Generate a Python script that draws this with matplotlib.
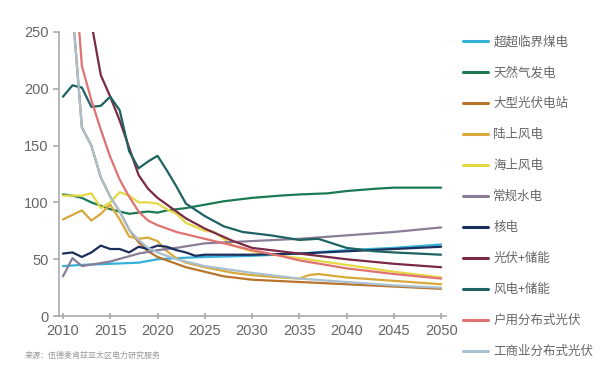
import matplotlib
matplotlib.use('Agg')
import matplotlib.pyplot as plt

plt.rcParams['font.family'] = ['Noto Sans CJK SC', 'DejaVu Sans']

# ---- data ----
coal_years = [2010, 2012, 2015, 2018, 2020, 2022, 2025, 2030, 2035, 2040, 2045, 2050]
coal = [44, 45, 46, 47, 50, 51, 52, 53, 55, 58, 60, 63]

gas_years = [2010, 2011, 2012, 2013, 2014, 2015, 2016, 2017, 2018, 2019, 2020, 2021, 2022,
             2023, 2025, 2027, 2030, 2033, 2035, 2038, 2040, 2043, 2045, 2050]
gas = [107, 106, 104, 100, 97, 94, 92, 90, 91, 92, 91, 93, 94,
       95, 98, 101, 104, 106, 107, 108, 110, 112, 113, 113]

# utility PV runs hidden under the C&I PV line in the early years
pv_years = [2011, 2012, 2013, 2014, 2015, 2016, 2017, 2018, 2019, 2020, 2021, 2022, 2023,
            2025, 2027, 2030, 2035, 2040, 2045, 2050]
pv = [270, 166, 150, 122, 105, 92, 76, 65, 57, 52, 49, 46, 43,
      39, 35, 32, 30, 28, 26, 24]

onwind_years = [2010, 2011, 2012, 2013, 2014, 2015, 2016, 2017, 2018, 2019, 2020, 2021, 2022,
                2023, 2025, 2028, 2030, 2033, 2035, 2036, 2037, 2040, 2045, 2050]
onwind = [85, 89, 93, 84, 90, 98, 85, 70, 68, 69, 66, 57, 51,
          47, 43, 38, 36, 34, 33, 36, 37, 34, 31, 28]

offwind_years = [2010, 2011, 2012, 2013, 2014, 2015, 2016, 2017, 2018, 2019, 2020, 2021, 2022,
                 2023, 2025, 2026, 2027, 2028, 2030, 2033, 2035, 2040, 2045, 2050]
offwind = [106, 106, 106, 108, 95, 100, 109, 106, 100, 100, 99, 94, 90,
           82, 75, 74, 68, 62, 57, 53, 51, 45, 39, 34]

hydro_years = [2010, 2011, 2012, 2015, 2018, 2020, 2022, 2025, 2030, 2035, 2040, 2045, 2050]
hydro = [35, 51, 44, 48, 55, 58, 60, 64, 66, 68, 71, 74, 78]

nuclear_years = [2010, 2011, 2012, 2013, 2014, 2015, 2016, 2017, 2018, 2019, 2020, 2021, 2022,
                 2023, 2024, 2025, 2030, 2035, 2040, 2045, 2050]
nuclear = [55, 56, 52, 56, 62, 59, 59, 56, 61, 59, 62, 61, 58,
           56, 53, 54, 54, 55, 57, 59, 61]

pv_storage_years = [2013, 2014, 2015, 2016, 2017, 2018, 2019, 2020, 2021, 2022, 2023, 2025,
                    2028, 2030, 2035, 2040, 2045, 2050]
pv_storage = [258, 212, 193, 172, 148, 124, 112, 104, 98, 92, 86, 77,
              66, 60, 55, 50, 46, 43]

wind_storage_years = [2010, 2011, 2012, 2013, 2014, 2015, 2016, 2017, 2018, 2019, 2020, 2021,
                      2022, 2023, 2025, 2027, 2029, 2032, 2035, 2037, 2040, 2043, 2045, 2050]
wind_storage = [193, 203, 201, 184, 185, 193, 181, 145, 130, 136, 141, 128,
                114, 99, 88, 79, 74, 71, 67, 68, 60, 57, 56, 54]

home_pv_years = [2011, 2012, 2013, 2014, 2015, 2016, 2017, 2018, 2019, 2020, 2021, 2022, 2023,
                 2025, 2027, 2030, 2033, 2035, 2040, 2045, 2050]
home_pv = [330, 220, 190, 164, 140, 120, 105, 92, 84, 80, 77, 74, 72,
           68, 64, 58, 53, 49, 42, 37, 33]

ci_pv_years = [2011, 2012, 2013, 2014, 2015, 2016, 2017, 2018, 2019, 2020, 2022, 2025,
               2030, 2035, 2040, 2045, 2050]
ci_pv = [270, 166, 150, 122, 105, 92, 76, 67, 60, 56, 50, 44,
         38, 33, 30, 27, 25]

series = [
    ('超超临界煤电', coal_years, coal, '#35b0d8'),
    ('天然气发电', gas_years, gas, '#1b7a52'),
    ('大型光伏电站', pv_years, pv, '#b8742c'),
    ('陆上风电', onwind_years, onwind, '#d9a83a'),
    ('海上风电', offwind_years, offwind, '#e4d844'),
    ('常规水电', hydro_years, hydro, '#8a7d98'),
    ('核电', nuclear_years, nuclear, '#1c2f5c'),
    ('光伏+储能', pv_storage_years, pv_storage, '#7a2a45'),
    ('风电+储能', wind_storage_years, wind_storage, '#1e6262'),
    ('户用分布式光伏', home_pv_years, home_pv, '#e07272'),
    ('工商业分布式光伏', ci_pv_years, ci_pv, '#a8c0d0'),
]

x_ticks = [2010, 2015, 2020, 2025, 2030, 2035, 2040, 2045, 2050]
y_ticks = [0, 50, 100, 150, 200, 250]

fig = plt.figure(figsize=(6.16, 3.71), dpi=100)
ax = fig.add_axes([0.0958, 0.148, 0.628, 0.766])

for name, yrs, vals, color in series:
    ax.plot(yrs, vals, color=color, lw=1.6, label=name, solid_capstyle='round')

ax.set_xlim(2009.58, 2050.5)
ax.set_ylim(0, 250)
ax.set_xticks(x_ticks)
ax.set_yticks(y_ticks)

for side in ['top', 'right']:
    ax.spines[side].set_visible(False)
for side in ['left', 'bottom']:
    ax.spines[side].set_color('#aaaaaa')
    ax.spines[side].set_linewidth(1.2)

ax.tick_params(axis='both', colors='#aaaaaa', length=4, width=1.2,
               labelcolor='#666666', labelsize=10.5)
ax.tick_params(axis='x', direction='inout')
for lab in ax.get_xticklabels() + ax.get_yticklabels():
    lab.set_family(['Liberation Sans', 'DejaVu Sans'])

leg = ax.legend(loc='upper left', bbox_to_anchor=(1.032, 1.006), frameon=False,
                fontsize=9, handlelength=2.0, handletextpad=0.4, labelspacing=1.44,
                borderaxespad=0)
for txt in leg.get_texts():
    txt.set_color('#666666')
for line in leg.get_lines():
    line.set_linewidth(2.2)

fig.text(0.04, 0.035, '来源：伍德麦肯兹亚太区电力研究服务', fontsize=5.8, color='#999999')

fig.savefig('out.png', dpi=100)
